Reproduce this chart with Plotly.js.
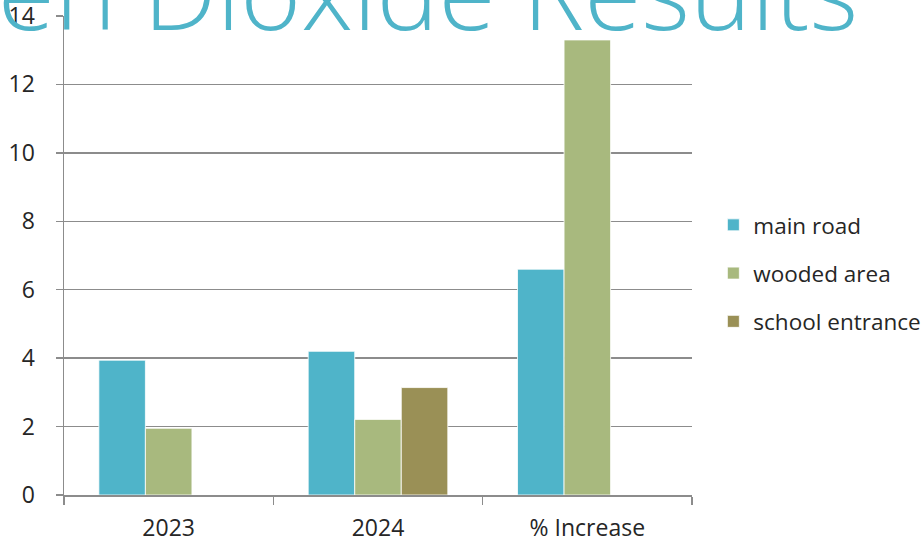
<!DOCTYPE html>
<html>
<head>
<meta charset="utf-8">
<script src="https://cdn.plot.ly/plotly-3.0.1.min.js"></script>
<style>html,body{margin:0;padding:0;background:#fff;}#chart{width:924px;height:542px;}</style>
</head>
<body>
<div id="chart"></div>
<script>
const categories = ["2023", "2024", "% Increase"];
const mainRoad = [3.94, 4.2, 6.6];
const woodedArea = [1.95, 2.21, 13.3];
const schoolEntrance = [null, 3.14, null];
const seriesNames = ["main road", "wooded area", "school entrance"];
const seriesColors = ["#4FB4C9", "#A8B97E", "#9A9056"];
const yTicks = [0, 2, 4, 6, 8, 10, 12, 14];
const chartTitle = "Nitrogen Dioxide Results";

const seriesValues = [mainRoad, woodedArea, schoolEntrance];
const traces = seriesValues.map((vals, i) => ({
  type: "bar",
  name: seriesNames[i],
  x: categories,
  y: vals,
  legendgroup: "g" + i,
  marker: { color: seriesColors[i], line: { color: "#ffffff", width: 0.8 } },
  hoverinfo: "x+y+name"
}));

const layout = {
  width: 924,
  height: 542,
  margin: { l: 64, r: 232, t: 16, b: 47, autoexpand: false },
  paper_bgcolor: "#ffffff",
  plot_bgcolor: "#ffffff",
  font: { family: "Open Sans, Noto Sans, sans-serif", color: "#262626", size: 23 },
  annotations: [{
    text: chartTitle,
    xref: "paper", yref: "paper",
    x: 0.3497, xanchor: "center",
    y: 0.903, yanchor: "bottom",
    showarrow: false,
    font: { family: "Open Sans, sans-serif", size: 104, color: "#4FB4C9", weight: 300 }
  }],
  barmode: "group",
  bargap: 0.333,
  bargroupgap: 0,
  showlegend: true,
  legend: {
    x: 1.034, xanchor: "left",
    y: 0.463, yanchor: "middle",
    traceorder: "grouped",
    tracegroupgap: 16,
    font: { size: 22.5, color: "#262626" },
    itemwidth: 30,
    bgcolor: "rgba(0,0,0,0)"
  },
  xaxis: {
    type: "category",
    tickson: "boundaries",
    ticks: "outside",
    ticklen: 8,
    tickcolor: "#8c8c8c",
    tickwidth: 1.5,
    showline: true,
    linecolor: "#8c8c8c",
    linewidth: 1.5,
    showgrid: false,
    ticklabelstandoff: 12,
    ticklabeloverflow: "allow",
    tickfont: { size: 23, color: "#262626" },
    fixedrange: true
  },
  yaxis: {
    range: [0, 14],
    tickvals: yTicks,
    ticktext: yTicks.map(String),
    ticks: "outside",
    ticklen: 7,
    tickcolor: "#8c8c8c",
    tickwidth: 1.5,
    showline: true,
    linecolor: "#8c8c8c",
    linewidth: 1.5,
    showgrid: true,
    gridcolor: "#8c8c8c",
    gridwidth: 1.5,
    zeroline: false,
    ticklabelstandoff: 16,
    ticklabeloverflow: "allow",
    tickfont: { size: 23, color: "#262626" },
    fixedrange: true
  }
};

Plotly.newPlot("chart", traces, layout, { displayModeBar: false, staticPlot: true });
</script>
</body>
</html>
